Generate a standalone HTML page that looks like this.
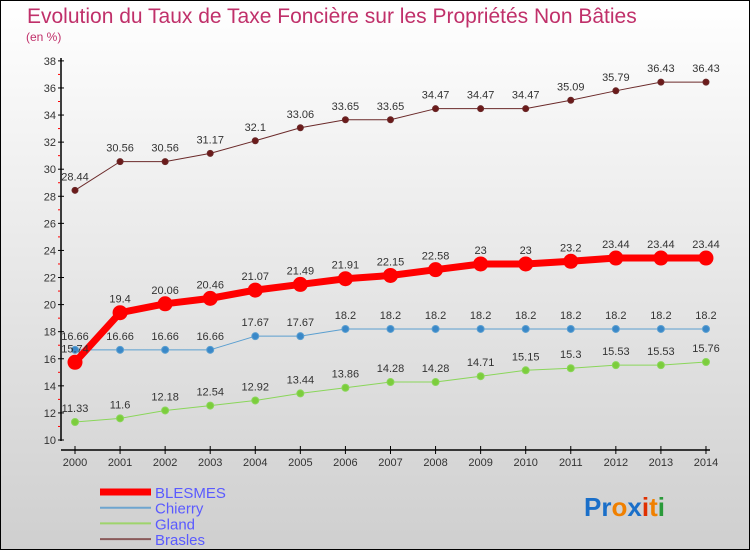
<!DOCTYPE html>
<html><head><meta charset="utf-8"><style>
body{margin:0}
#c{width:750px;height:550px;position:relative;overflow:hidden;box-sizing:border-box;border:1px solid #000;background:linear-gradient(#fff,#cfcfcf);font-family:"Liberation Sans",sans-serif}
</style></head><body>
<div id="c">
<svg id="s" width="750" height="550" style="position:absolute;left:-1px;top:-1px">
<text x="27" y="23" font-size="21" fill="#c0306a">Evolution du Taux de Taxe Foncière sur les Propriétés Non Bâties</text>
<text x="26" y="41" font-size="12" fill="#c0306a">(en %)</text>
<text x="584" y="516" font-size="26" font-weight="bold"><tspan fill="#1a6fc9">Pr</tspan><tspan fill="#f08000">o</tspan><tspan fill="#1a6fc9">x</tspan><tspan fill="#e03000">i</tspan><tspan fill="#f08000">t</tspan><tspan fill="#2a9a3a">i</tspan></text>
</svg>
</div>
<script>
const years=[2000,2001,2002,2003,2004,2005,2006,2007,2008,2009,2010,2011,2012,2013,2014];
const blesmes=[15.74,19.4,20.06,20.46,21.07,21.49,21.91,22.15,22.58,23,23,23.2,23.44,23.44,23.44];
const chierry=[16.66,16.66,16.66,16.66,17.67,17.67,18.2,18.2,18.2,18.2,18.2,18.2,18.2,18.2,18.2];
const gland=[11.33,11.6,12.18,12.54,12.92,13.44,13.86,14.28,14.28,14.71,15.15,15.3,15.53,15.53,15.76];
const brasles=[28.44,30.56,30.56,31.17,32.1,33.06,33.65,33.65,34.47,34.47,34.47,35.09,35.79,36.43,36.43];
const yTicks=[10,12,14,16,18,20,22,24,26,28,30,32,34,36,38];
const NS="http://www.w3.org/2000/svg";
const svg=document.getElementById('s');
const X=i=>75+i*45.07;
const Y=v=>440-(v-10)*13.54;
function el(t,a,p){const e=document.createElementNS(NS,t);for(const k in a)e.setAttribute(k,a[k]);(p||svg).appendChild(e);return e;}
// axes
let ax=el('line',{x1:61,y1:58,x2:61,y2:441,stroke:'#000','stroke-width':1.5});


let bx=el('line',{x1:61,y1:450,x2:710,y2:450,stroke:'#000','stroke-width':1.5});


yTicks.forEach(v=>{
  el('line',{x1:58,y1:Y(v),x2:64,y2:Y(v),stroke:'#000'});
  if(v<38) el('line',{x1:58,y1:Y(v+1),x2:60,y2:Y(v+1),stroke:'#f00'});
  const t=el('text',{x:56,y:Y(v)+4,'font-size':11,fill:'#333','text-anchor':'end'});
  t.textContent=v;
  
  
});
years.forEach((y,i)=>{
  el('line',{x1:X(i),y1:446,x2:X(i),y2:454,stroke:'#000'});
  const t=el('text',{x:X(i),y:466,'font-size':11,fill:'#333','text-anchor':'middle'});
  t.textContent=y;
  
  
});
function series(name,vals,color,w,r,fill,labels){
  const g=el('g',{});
  
  
  el('polyline',{points:vals.map((v,i)=>X(i)+','+Y(v)).join(' '),fill:'none',stroke:color,'stroke-width':w,'stroke-linejoin':'round'},g);
  vals.forEach((v,i)=>{
    const c=el('circle',{cx:X(i),cy:Y(v),r:r,fill:fill,stroke:color,'stroke-width':1},g);
    
    
    if(labels){const t=el('text',{x:X(i),y:Y(v)-10,'font-size':11,fill:'#333','text-anchor':'middle'},g);t.textContent=v;}
  });
}
series('brasles',brasles,'#6b2a2a',1,3,'#6b1a1a',true);
series('gland',gland,'#8ad65a',1,3.5,'#7ccd3c',true);
series('chierry',chierry,'#5b9fd0',1,3.5,'#3a88c8',true);
series('blesmes',blesmes,'#f00',7,7,'#f00',true);
const leg=[['BLESMES','#f00',7],['Chierry','#6ea5cf',2],['Gland','#9ed46b',2],['Brasles','#8a5a5a',2]];
leg.forEach((l,i)=>{
  const y=492+i*15.7;
  const g=el('g',{});
  
  
  el('line',{x1:100,y1:y,x2:151,y2:y,stroke:l[1],'stroke-width':l[2]},g);
  const t=el('text',{x:155,y:y+6,'font-size':15,fill:'#5a5aff'},g);t.textContent=l[0];
});
</script>
</body></html>
